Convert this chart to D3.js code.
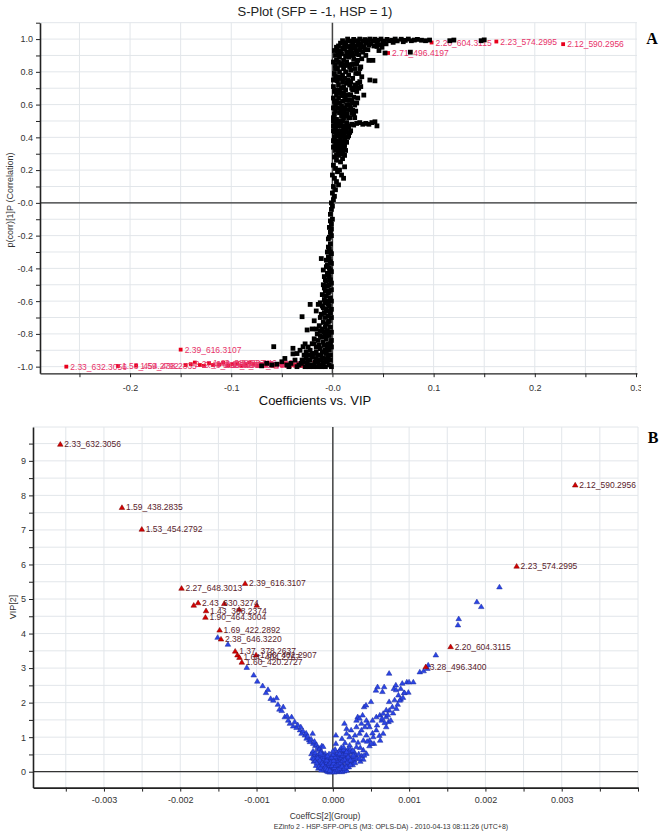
<!DOCTYPE html>
<html><head><meta charset="utf-8">
<script src="https://cdn.jsdelivr.net/npm/d3@7"></script>
<style>
body{margin:0;background:#fff}
svg{display:block}
text{font-family:"Liberation Sans",Arial,sans-serif}
</style>
</head><body>
<svg id="chart" width="663" height="832"></svg>
<script>
// ---------- Panel A : S-plot data (p[1] , p(corr)[1]) ----------
const sBlack = [
[0.015,1.0],[0.021,0.998],[0.027,1.0],[0.032,0.997],[0.037,1.0],[0.042,0.999],[0.048,1.0],[0.054,0.998],[0.062,1.0],[0.068,0.999],[0.075,1.0],[0.084,0.998],
[0.010,0.99],[0.017,0.988],[0.024,0.99],[0.030,0.987],[0.035,0.991],[0.040,0.989],[0.045,0.992],[0.051,0.988],[0.056,0.99],[0.059,0.993],[0.064,0.989],[0.072,0.992],[0.078,0.99],[0.081,0.994],[0.088,0.993],[0.092,0.99],[0.096,0.994],[0.116,0.99],[0.120,0.994],[0.147,0.99],[0.150,0.995],
[0.008,0.975],[0.013,0.978],[0.020,0.974],[0.025,0.977],[0.028,0.972],[0.033,0.976],[0.038,0.973],[0.044,0.978],[0.050,0.975],[0.053,0.971],[0.060,0.98],[0.070,0.984],
[0.006,0.958],[0.012,0.962],[0.016,0.955],[0.019,0.96],[0.022,0.957],[0.026,0.961],[0.031,0.954],[0.036,0.963],[0.041,0.958],[0.047,0.965],
[0.005,0.93],[0.009,0.91],[0.012,0.94],[0.014,0.92],[0.016,0.89],[0.018,0.935],[0.020,0.90],[0.022,0.945],[0.024,0.91],[0.027,0.935],[0.029,0.88],[0.031,0.95],[0.033,0.90],[0.036,0.87],[0.040,0.87],[0.044,0.955],[0.046,0.93],[0.049,0.95],[0.052,0.915],[0.035,0.935],[0.025,0.87],[0.011,0.87],[0.007,0.89],[0.077,0.92],[0.003,0.90],[0.004,0.87],
[0.002,0.93],[0.004,0.95],[0.006,0.905],[0.008,0.925],[0.010,0.945],[0.013,0.895],[0.015,0.91],[0.017,0.95],[0.019,0.915],[0.021,0.88],[0.023,0.93],[0.026,0.905],[0.028,0.955],[0.030,0.92],[0.032,0.935],
[0.003,0.84],[0.005,0.82],[0.007,0.80],[0.008,0.84],[0.010,0.78],[0.011,0.82],[0.012,0.76],[0.013,0.80],[0.015,0.84],[0.016,0.78],[0.017,0.72],[0.018,0.81],[0.020,0.76],[0.021,0.85],[0.023,0.79],[0.025,0.73],[0.027,0.82],[0.029,0.77],[0.037,0.75],[0.042,0.745],[0.028,0.71],[0.004,0.75],[0.006,0.72],[0.009,0.70],[0.014,0.73],[0.019,0.70],[0.024,0.68],[0.026,0.70],[0.022,0.72],[0.031,0.658],[0.002,0.79],[0.006,0.77],[0.010,0.74],
[0.001,0.86],[0.003,0.82],[0.006,0.86],[0.009,0.85],[0.012,0.84],[0.014,0.86],[0.017,0.83],[0.019,0.845],[0.022,0.82],[0.024,0.85],[0.026,0.79],[0.028,0.83],
[0.001,0.75],[0.003,0.77],[0.005,0.745],[0.008,0.76],[0.011,0.71],[0.013,0.69],[0.015,0.75],[0.018,0.74],[0.020,0.69],[0.023,0.705],[0.027,0.74],
[0.001,0.71],[0.003,0.69],[0.005,0.675],[0.007,0.69],[0.009,0.655],[0.011,0.67],[0.013,0.63],[0.015,0.66],[0.017,0.60],[0.019,0.625],[0.021,0.645],[0.024,0.61],
[0.002,0.68],[0.004,0.66],[0.006,0.64],[0.008,0.67],[0.010,0.62],[0.012,0.65],[0.014,0.60],[0.016,0.63],[0.018,0.66],[0.020,0.61],[0.022,0.597],[0.003,0.60],[0.005,0.58],[0.007,0.55],[0.009,0.59],[0.011,0.56],[0.013,0.53],[0.015,0.57],[0.017,0.52],[0.019,0.55],[0.021,0.54],[0.002,0.54],[0.004,0.51],[0.006,0.50],[0.008,0.48],[0.010,0.50],[0.012,0.47],[0.014,0.49],[0.016,0.46],[0.003,0.46],[0.005,0.44],[0.007,0.42],[0.009,0.44],[0.011,0.41],[0.013,0.43],[0.015,0.40],[0.002,0.40],[0.004,0.38],[0.006,0.36],[0.008,0.39],[0.010,0.37],[0.012,0.35],[0.018,0.44],[0.023,0.56],[0.025,0.64],[0.001,0.64],[0.001,0.50],[0.001,0.44],[0.004,0.62],[0.007,0.61],[0.009,0.53],[0.003,0.56],[0.006,0.47],[0.011,0.52],
[0.001,0.58],[0.002,0.62],[0.005,0.61],[0.008,0.57],[0.010,0.545],[0.012,0.58],[0.014,0.545],[0.016,0.52],[0.018,0.575],[0.020,0.565],[0.022,0.52],
[0.001,0.52],[0.003,0.49],[0.005,0.48],[0.007,0.49],[0.009,0.47],[0.011,0.46],[0.013,0.45],[0.015,0.47],[0.017,0.43],
[0.001,0.47],[0.002,0.43],[0.004,0.41],[0.006,0.42],[0.008,0.41],[0.010,0.42],[0.012,0.39],[0.014,0.37],[0.016,0.41],
[0.001,0.38],[0.003,0.36],[0.005,0.35],[0.007,0.37],[0.009,0.35],[0.011,0.36],[0.003,0.34],[0.008,0.33],[0.010,0.30],[0.012,0.29],[0.006,0.31],[0.004,0.29],
[0.024,0.485],[0.027,0.49],[0.030,0.48],[0.033,0.485],[0.036,0.48],[0.039,0.49],[0.042,0.495],[0.044,0.47],[0.021,0.475],[0.019,0.48],
[0.001,0.34],[0.003,0.32],[0.005,0.33],[0.007,0.30],[0.009,0.31],[0.011,0.33],[0.013,0.32],[0.002,0.28],[0.004,0.26],[0.006,0.29],[0.008,0.25],[0.010,0.27],[0.012,0.22],[0.001,0.23],[0.003,0.21],[0.005,0.19],[0.007,0.20],[0.009,0.17],[0.011,0.15],[0.000,0.17],[0.002,0.15],[0.004,0.13],[0.001,0.10],[0.003,0.08],[0.006,0.11],[0.000,0.06],[0.002,0.04],[0.001,0.02],[-0.001,0.0],[0.000,-0.02],
[-0.001,-0.04],[-0.002,-0.07],[0.000,-0.10],[-0.001,-0.13],[-0.003,-0.15],[-0.002,-0.18],[-0.001,-0.20],[-0.004,-0.22],[-0.002,-0.25],[-0.003,-0.28],[-0.005,-0.30],[-0.001,-0.31],[-0.004,-0.33],[-0.006,-0.35],[-0.002,-0.36],[-0.011,-0.34],[-0.005,-0.38],[-0.003,-0.40],[-0.009,-0.41],[-0.001,-0.42],[-0.004,-0.44],[-0.008,-0.45],[-0.002,-0.47],[-0.006,-0.48],[-0.009,-0.50],[-0.003,-0.50],
[-0.002,-0.11],[-0.001,-0.16],[-0.003,-0.21],[-0.002,-0.30],[-0.004,-0.27],[-0.003,-0.34],[-0.001,-0.37],[-0.006,-0.39],[-0.002,-0.41],[-0.005,-0.43],[-0.003,-0.45],[-0.007,-0.47],[-0.001,-0.49],[-0.005,-0.51],[-0.008,-0.52],[-0.003,-0.54],[-0.006,-0.57],[-0.001,-0.60],[-0.004,-0.62],[-0.007,-0.61],[-0.010,-0.63],[-0.001,-0.65],[-0.005,-0.66],[-0.008,-0.67],[-0.012,-0.70],[-0.001,-0.70],[-0.004,-0.73],[-0.007,-0.76],[-0.010,-0.77],[-0.001,-0.79],[-0.004,-0.80],[-0.007,-0.81],[-0.012,-0.81],[-0.016,-0.77],
[-0.001,-0.53],[-0.004,-0.55],[-0.007,-0.54],[-0.010,-0.56],[-0.002,-0.58],[-0.005,-0.60],[-0.008,-0.59],[-0.012,-0.61],[-0.003,-0.63],[-0.006,-0.65],[-0.009,-0.64],[-0.014,-0.62],[-0.002,-0.67],[-0.004,-0.69],[-0.007,-0.70],[-0.011,-0.68],[-0.016,-0.66],[-0.022,-0.62],[-0.003,-0.72],[-0.006,-0.74],[-0.009,-0.73],[-0.013,-0.75],[-0.018,-0.72],[-0.002,-0.76],[-0.005,-0.78],[-0.008,-0.79],[-0.012,-0.78],[-0.015,-0.80],[-0.020,-0.77],[-0.003,-0.81],[-0.006,-0.83],[-0.010,-0.82],[-0.014,-0.84],[-0.018,-0.83],[-0.030,-0.695],[-0.001,-0.84],
[-0.002,-0.86],[-0.005,-0.88],[-0.008,-0.87],[-0.012,-0.89],[-0.016,-0.88],[-0.020,-0.86],[-0.024,-0.88],[-0.029,-0.878],[-0.027,-0.861],[-0.003,-0.90],[-0.006,-0.92],[-0.010,-0.91],[-0.014,-0.93],[-0.018,-0.92],[-0.022,-0.90],[-0.026,-0.91],[-0.032,-0.90],[-0.004,-0.94],[-0.008,-0.95],[-0.012,-0.96],[-0.016,-0.95],[-0.020,-0.94],[-0.024,-0.96],[-0.028,-0.93],[-0.035,-0.92],[-0.039,-0.922],[-0.047,-0.95],[-0.058,-0.878],
[-0.009,-0.85],[-0.004,-0.86],[-0.013,-0.87],[-0.018,-0.86],[-0.001,-0.88],[-0.007,-0.90],[-0.011,-0.93],[-0.016,-0.91],[-0.020,-0.92],[-0.024,-0.93],[-0.002,-0.93],[-0.006,-0.96],[-0.010,-0.95],[-0.014,-0.97],[-0.018,-0.99],[-0.022,-0.96],[-0.026,-0.95],[-0.030,-0.96],[-0.002,-0.96],[-0.015,-1.0],[-0.023,-1.0],[-0.031,-0.98],[-0.001,-1.0],
[-0.005,-0.97],[-0.009,-0.98],[-0.013,-0.99],[-0.017,-0.97],[-0.021,-0.99],[-0.025,-0.98],[-0.029,-0.97],[-0.033,-0.99],[-0.037,-0.96],[-0.041,-0.98],[-0.045,-0.99],[-0.050,-0.97],[-0.055,-0.985],[-0.060,-0.99],[-0.065,-0.98],[-0.070,-0.995],[-0.011,-1.0],[-0.019,-1.0],[-0.027,-1.0],[-0.035,-1.0],[-0.043,-1.0],[-0.003,-0.99],[-0.007,-1.0],[-0.039,-0.888],[-0.025,-0.776]
];
const sRed = [
[-0.263,-1.0,"2.33_632.3056"],[-0.212,-0.996,"1.53_454.2792"],[-0.194,-0.994,"1.59_438.2835"],[-0.150,-0.896,"2.39_616.3107"],
[-0.140,-0.985,"2.27_648.3013"],[-0.131,-0.99,"2.43_630.3274"],[-0.122,-0.98,"1.43_388.2374"],[-0.112,-0.987,"1.90_464.3004"],
[-0.103,-0.992,"1.69_422.2892"],[-0.094,-0.98,"2.38_646.3220"],[-0.086,-0.99,"1.37_378.2637"],[-0.078,-0.985,"1.60_420.2727"],
[-0.145,-0.99,""],[-0.136,-0.975,""],[-0.127,-0.995,""],[-0.118,-0.99,""],[-0.108,-0.975,""],[-0.099,-0.985,""],[-0.090,-0.995,""],[-0.082,-0.975,""],
[-0.074,-0.995,""],[-0.070,-0.985,""],[-0.066,-0.99,""],[-0.062,-0.98,""],[-0.058,-0.995,""],[-0.054,-0.985,""],[-0.050,-0.99,""],[-0.046,-0.98,""],
[-0.042,-0.995,""],[-0.038,-0.99,""],[-0.034,-0.985,""],[-0.030,-0.995,""],
[0.098,0.979,"2.20_604.3115"],[0.162,0.985,"2.23_574.2995"],[0.228,0.969,"2.12_590.2956"],[0.055,0.915,"2.71_496.4197"]
];
const sXTicks = [-0.25,-0.2,-0.15,-0.1,-0.05,0,0.05,0.1,0.15,0.2,0.25,0.3];
const sXTickLabels = ["","-0.2","","-0.1","","-0.0","","0.1","","0.2","","0.3"];
const sYTicks = [1.1,1.0,0.9,0.8,0.7,0.6,0.5,0.4,0.3,0.2,0.1,0,-0.1,-0.2,-0.3,-0.4,-0.5,-0.6,-0.7,-0.8,-0.9,-1.0];
const sYTickLabels = ["","1.0","","0.8","","0.6","","0.4","","0.2","","-0.0","","-0.2","","-0.4","","-0.6","","-0.8","","-1.0"];

// ---------- Panel B : Coefficients vs VIP data ----------
const vipBlue = [
[-0.00151,3.89],[-0.001375,3.69],[-0.001128,3.02],[-0.001037,2.80],[-0.00099,2.62],[-0.00092,2.49],[-0.000876,2.29],[-0.00085,2.38],[-0.000815,2.12],[-0.00078,2.07],[-0.000737,2.14],[-0.00072,1.95],[-0.0007,1.81],[-0.00067,1.77],[-0.00065,1.88],[-0.00063,1.59],[-0.0006,1.62],[-0.000585,1.49],[-0.000563,1.40],[-0.00054,1.59],[-0.00052,1.32],[-0.0005,1.45],[-0.000475,1.28],[-0.00046,1.36],[-0.00043,1.21],[-0.00042,1.30],[-0.00041,1.11],[-0.00039,1.18],[-0.000366,1.06],[-0.00035,1.12],[-0.000344,0.97],[-0.00033,1.03],[-0.00031,0.92],[-0.0003,0.87],[-0.000285,0.95],[-0.000265,1.11],[-0.000257,0.82],[-0.00024,0.88],[-0.00023,0.76],[-0.000213,0.78],[-0.0002,0.70],[-0.00019,0.64],[-0.00017,0.68],[-0.00016,0.58],[-0.000148,0.58],[-0.000144,0.75],[-0.00013,0.52],[-0.000126,0.73],[-0.00012,0.46],[-0.00011,0.40],[-0.0001,0.53],[-0.000095,0.35],[-0.00009,0.44],[-0.00008,0.30],[-0.000075,0.38],[-0.00007,0.22],[-0.00006,0.27],[-0.00005,0.15],[-0.000045,0.32],[-0.00004,0.10],[-0.00003,0.20],[-0.00002,0.06],[-0.000015,0.14],[-0.00001,0.02],[-0.000005,0.09],
[-0.00028,0.52],[-0.00026,0.60],[-0.00024,0.48],[-0.00023,0.55],[-0.00021,0.44],[-0.00019,0.50],[-0.00018,0.38],[-0.00017,0.45],[-0.00015,0.33],[-0.00014,0.41],[-0.00013,0.29],[-0.00012,0.36],[-0.00011,0.25],[-0.0001,0.31],[-0.00009,0.19],[-0.00008,0.26],[-0.00007,0.14],[-0.00006,0.20],[-0.00005,0.08],[-0.00004,0.17],[-0.00003,0.05],[-0.00002,0.12],[-0.00001,0.07],[0,0.03],[0,0.10],[0.00001,0.15],[0.00002,0.05],[0.00003,0.20],[0.00004,0.09],[0.00005,0.25],[0.00006,0.13],[0.00007,0.30],[0.00008,0.06],[0.00009,0.18],[0.0001,0.35],[0.00011,0.10],[0.00012,0.24],[0.00013,0.40],[0.00014,0.15],[0.00015,0.30],[0.00016,0.45],[0.00017,0.08],[0.00018,0.22],[0.00019,0.36],[0.0002,0.50],[0.00021,0.14],[0.00022,0.28],[0.00024,0.42],[0.00025,0.56],[0.00026,0.20],[0.00028,0.34],[0.0003,0.48],[-0.00022,0.18],[-0.00019,0.10],[-0.00016,0.22],[-0.00013,0.12],[-0.00011,0.05],[-0.00008,0.02],[-0.00006,0.0],[-0.00015,0.05],[-0.00018,0.28],[-0.00025,0.30],[-0.00004,-0.01],[-0.00002,0.0],[0.00002,-0.01],[0.00005,0.0],[0.00008,0.01],[0.0001,0.03],[0.00012,0.0],[0.00015,0.02],[0.00018,0.04],[0.00006,0.32],[0.00004,0.38],[0.00002,0.28],[0,0.22],[-0.00002,0.30],[-0.00003,0.36],[0.00009,0.42],[0.00011,0.48],[0.00014,0.55],[0.00017,0.60],[0.0002,0.66],[0,0.40],[-0.00001,0.48],[0.00003,0.52],[0.00005,0.45],[0.00007,0.50],[0.00008,0.58],[0.00012,0.62],[0.00003,0.65],
[-0.00027,0.40],[-0.00025,0.38],[-0.00023,0.32],[-0.00021,0.26],[-0.0002,0.40],[-0.00018,0.16],[-0.00017,0.34],[-0.00016,0.12],[-0.00014,0.26],[-0.00013,0.20],[-0.00012,0.08],[-0.0001,0.14],[-0.00009,0.10],[-0.00007,0.06],[-0.00005,0.24],[-0.00004,0.04],[-0.00003,0.28],[-0.00001,0.18],[0.00001,0.25],[0.00002,0.12],[0.00004,0.18],[0.00006,0.06],[0.00007,0.22],[0.00009,0.10],[0.0001,0.26],[0.00012,0.16],[0.00013,0.32],[0.00015,0.10],[0.00016,0.36],[0.00018,0.14],[0.00019,0.28],[0.00021,0.40],[0.00023,0.20],[0.00025,0.32],[0.00027,0.44],[0.00029,0.26],[0.00032,0.38],[0.00034,0.52],[0.00036,0.30],[0.00038,0.46],[0.0004,0.36],[-0.00008,0.34],[-0.00006,0.42],[-0.00011,0.45],[-0.00014,0.50],[-0.00016,0.54],[0.00001,0.33],[0.00003,0.43],[0.00006,0.55],[0.00009,0.62],[0.00011,0.70],[0.00014,0.64],[0.00021,0.58],[0.00023,0.66],[0.00028,0.58],[-0.00002,0.42],[0.0,0.5],[0.0,0.6],[-0.00005,0.52],[-0.00007,0.46],[0.00013,0.48],[0.00017,0.52],
[0.00004,1.06],[0.000152,1.40],[0.00018,1.25],[0.000326,1.59],[0.00035,1.55],[0.00039,1.64],[0.00041,1.88],[0.000435,1.93],[0.0005,2.03],[0.000565,2.36],[0.000586,2.46],[0.000673,2.46],[0.00065,2.32],[0.000738,2.85],[0.000738,2.03],[0.0008,2.41],[0.000826,2.51],[0.00086,2.22],[0.00089,2.10],[0.00091,2.56],[0.000934,2.29],[0.00097,2.60],[0.000999,2.60],[0.001055,2.60],[0.00078,1.88],[0.00114,2.89],[0.00119,2.92],[0.00124,2.99],[0.00125,3.09],[0.00135,3.38],[0.002184,5.35],[0.001888,4.92],[0.001945,4.78],[0.00165,4.43],[0.00164,4.25],
[0.00031,1.49],[0.000375,1.40],[0.00044,1.49],[0.00048,1.30],[0.00052,1.49],[0.00057,1.59],[0.000616,1.64],[0.00066,1.69],[0.0007,1.59],[0.00074,1.78],[0.000834,1.83],[0.000877,2.07],[0.00057,1.21],[0.00053,1.01],[0.00048,0.91],[0.00044,1.06],[0.0004,0.91],[0.00035,1.11],[0.00029,1.06],[0.00027,0.91],[0.00022,1.01],[0.00022,0.77],[0.00031,0.72],[0.0004,0.63],[0.00048,0.75],[0.00054,0.82],[0.00062,0.91],[0.00066,1.11],[0.0007,1.30],[0.00014,0.72],[0.00018,0.58],[0.00027,0.48],[0.00035,0.39],[0.00044,0.53],[0.0002,0.43],[0.00009,0.53],[0.00004,0.82],[0.00012,0.96],[0.00018,1.11],[0.00024,1.21],[0.00031,1.30],[0.000375,1.21],[0.00042,1.30],[0.00046,1.40],[0.00064,1.49],[0.00073,1.45],[0.00076,1.49],[0.00051,0.82],[0.000645,1.55],[0.0007,1.79],[0.00081,2.08],[0.00083,2.37],[0.00094,2.29],[0.00089,2.41],
[0.00023,0.34],[0.00041,0.48],[0.00052,1.12],[0.00016,0.84],[0.00026,0.62],[0.00033,0.85],[0.00036,0.70],[0.00045,0.88],[0.00058,1.35],[0.00061,1.05],[0.00068,1.42],[0.00072,1.65],[0.00079,1.70],[0.00085,1.95],[0.00092,2.15],[0.00099,2.30]
];
const vipRed = [
[-0.003572,9.48,"2.33_632.3056"],[-0.002764,7.65,"1.59_438.2835"],[-0.002504,7.02,"1.53_454.2792"],[-0.001983,5.31,"2.27_648.3013"],
[-0.00115,5.45,"2.39_616.3107"],[-0.001766,4.89,"2.43_630.3274"],[-0.001823,4.82,""],[-0.001662,4.66,"1.43_388.2374"],
[-0.001423,4.87,""],[-0.001228,4.70,""],[-0.000997,4.82,""],[-0.00167,4.47,"1.90_464.3004"],[-0.001484,4.10,"1.69_422.2892"],
[-0.001466,3.84,"2.38_646.3220"],[-0.00128,3.49,"1.37_378.2637"],[-0.00125,3.38,""],[-0.001224,3.31,"1.64_404.2767"],
[-0.001006,3.38,"1.66_402.2907"],[-0.001193,3.17,"1.60_420.2727"],
[0.003177,8.30,"2.12_590.2956"],[0.002409,5.95,"2.23_574.2995"],[0.001544,3.62,"2.20_604.3115"],[0.001218,3.04,"3.28_496.3400"]
];
const vXTicks = [-0.0035,-0.003,-0.0025,-0.002,-0.0015,-0.001,-0.0005,0,0.0005,0.001,0.0015,0.002,0.0025,0.003,0.0035,0.004];
const vXTickLabels = ["","-0.003","","-0.002","","-0.001","","0.000","","0.001","","0.002","","0.003","",""];
const vYTicks = [0,0.5,1,1.5,2,2.5,3,3.5,4,4.5,5,5.5,6,6.5,7,7.5,8,8.5,9,9.5];
const vYTickLabels = ["0","","1","","2","","3","","4","","5","","6","","7","","8","","9",""];

// ---------- drawing ----------
const svg = d3.select("#chart");
svg.append("rect").attr("width",663).attr("height",832).attr("fill","#fff");
const gridC = "#e2e6ea";

function panel(o){
  const g = svg.append("g");
  const [x0,x1] = o.x.range(), [yb,yt] = o.y.range();
  g.append("g").selectAll("line").data(o.yGrid).join("line")
    .attr("x1",x0).attr("x2",x1).attr("y1",d=>o.y(d)).attr("y2",d=>o.y(d))
    .attr("stroke",gridC).attr("stroke-width",1);
  g.append("g").selectAll("line").data(o.xGrid).join("line")
    .attr("y1",yt).attr("y2",yb).attr("x1",d=>o.x(d)).attr("x2",d=>o.x(d))
    .attr("stroke",gridC).attr("stroke-width",1);
  g.append("line").attr("x1",x0).attr("x2",x1).attr("y1",o.y(0)).attr("y2",o.y(0))
    .attr("stroke","#333").attr("stroke-width",1.2);
  g.append("line").attr("x1",o.x(0)).attr("x2",o.x(0)).attr("y1",yt).attr("y2",yb)
    .attr("stroke","#444").attr("stroke-width",1.5);
  return g;
}
function axes(o){
  const ya = d3.axisLeft(o.y).tickValues(o.yTicks).tickSizeInner(4).tickSizeOuter(0).tickPadding(3)
    .tickFormat((d,i)=>o.yLabels[i]);
  const xa = d3.axisBottom(o.x).tickValues(o.xTicks).tickSizeInner(4).tickSizeOuter(0).tickPadding(o.xPad)
    .tickFormat((d,i)=>o.xLabels[i]);
  const gy = svg.append("g").attr("transform",`translate(${o.x.range()[0]},0)`).call(ya);
  const gx = svg.append("g").attr("transform",`translate(0,${o.y.range()[0]})`).call(xa);
  [gy,gx].forEach(a=>{
    a.select(".domain").attr("stroke","#222").attr("stroke-width",1.6);
    a.selectAll(".tick line").attr("stroke","#222").attr("stroke-width",1);
    a.selectAll(".tick text").attr("fill","#333").style("font-size","9px").style("font-family","'Liberation Sans',Arial,sans-serif");
  });
  return gx;
}

// Panel A
const xA = d3.scaleLinear().domain([-0.289,0.301]).range([40,637]);
const yA = d3.scaleLinear().domain([-1.04,1.1]).range([373.2,22.7]);
const gA = panel({x:xA,y:yA,yGrid:sYTicks,xGrid:sXTicks});
gA.append("g").selectAll("rect").data(sRed).join("rect")
  .attr("x",d=>xA(d[0])-1.9).attr("y",d=>yA(d[1])-1.9).attr("width",3.8).attr("height",3.8).attr("fill","#e8001c");
gA.append("g").selectAll("text").data(sRed.filter(d=>d[2])).join("text")
  .attr("x",d=>xA(d[0])+4).attr("y",d=>yA(d[1])+3)
  .attr("fill","#e8336a").style("font-size","8.5px").text(d=>d[2]);
gA.append("g").selectAll("rect").data(sBlack).join("rect")
  .attr("x",d=>xA(d[0])-2.4).attr("y",d=>yA(d[1])-2.4).attr("width",4.8).attr("height",4.8).attr("fill","#000");
svg.append("clipPath").attr("id","clipA").append("rect").attr("x",0).attr("y",0).attr("width",641).attr("height",832);
const gxA = axes({x:xA,y:yA,yTicks:sYTicks,yLabels:sYTickLabels,xTicks:sXTicks,xLabels:sXTickLabels,xPad:7});
gxA.attr("clip-path","url(#clipA)");

svg.append("text").attr("x",315).attr("y",16).attr("text-anchor","middle").attr("fill","#222")
  .style("font-size","13px").text("S-Plot (SFP = -1, HSP = 1)");
svg.append("text").attr("transform","translate(13,200) rotate(-90)").attr("text-anchor","middle")
  .attr("fill","#333").style("font-size","9px").text("p(corr)[1]P (Correlation)");
svg.append("text").attr("x",652).attr("y",44).attr("text-anchor","middle")
  .style("font-family","'Liberation Serif','Times New Roman',serif").style("font-weight","bold").style("font-size","16px").text("A");

// Panel B
const xB = d3.scaleLinear().domain([-0.00393,0.004]).range([33,638]);
const yB = d3.scaleLinear().domain([-0.46,9.98]).range([787.6,427]);
const gB = panel({x:xB,y:yB,yGrid:vYTicks.concat([9.98]),xGrid:vXTicks});
const tri = "M0,-2.7L2.8,2L-2.8,2Z";
gB.append("g").selectAll("path").data(vipBlue).join("path")
  .attr("d",tri).attr("transform",d=>`translate(${xB(d[0])},${yB(d[1])})`)
  .attr("fill","#2b45e6").attr("stroke","#1a2a9c").attr("stroke-width",0.5);
gB.append("g").selectAll("path").data(vipRed).join("path")
  .attr("d",tri).attr("transform",d=>`translate(${xB(d[0])},${yB(d[1])})`)
  .attr("fill","#d40000").attr("stroke","#7a0000").attr("stroke-width",0.5);
gB.append("g").selectAll("text").data(vipRed.filter(d=>d[2])).join("text")
  .attr("x",d=>xB(d[0])+4).attr("y",d=>yB(d[1])+3)
  .attr("fill","#5a1d2c").style("font-size","8.5px").text(d=>d[2]);
axes({x:xB,y:yB,yTicks:vYTicks,yLabels:vYTickLabels,xTicks:vXTicks,xLabels:vXTickLabels,xPad:5});

svg.append("text").attr("x",315).attr("y",405).attr("text-anchor","middle").attr("fill","#111")
  .style("font-size","13px").text("Coefficients vs. VIP");
svg.append("text").attr("transform","translate(16,607) rotate(-90)").attr("text-anchor","middle")
  .attr("fill","#333").style("font-size","9px").text("VIP[2]");
svg.append("text").attr("x",325).attr("y",819).attr("text-anchor","middle").attr("fill","#333")
  .style("font-size","8.5px").text("CoeffCS[2](Group)");
svg.append("text").attr("x",391).attr("y",829).attr("text-anchor","middle").attr("fill","#333")
  .style("font-size","7px").text("EZinfo 2 - HSP-SFP-OPLS (M3: OPLS-DA) - 2010-04-13 08:11:26 (UTC+8)");
svg.append("text").attr("x",653).attr("y",443).attr("text-anchor","middle")
  .style("font-family","'Liberation Serif','Times New Roman',serif").style("font-weight","bold").style("font-size","16px").text("B");
</script>
</body></html>
